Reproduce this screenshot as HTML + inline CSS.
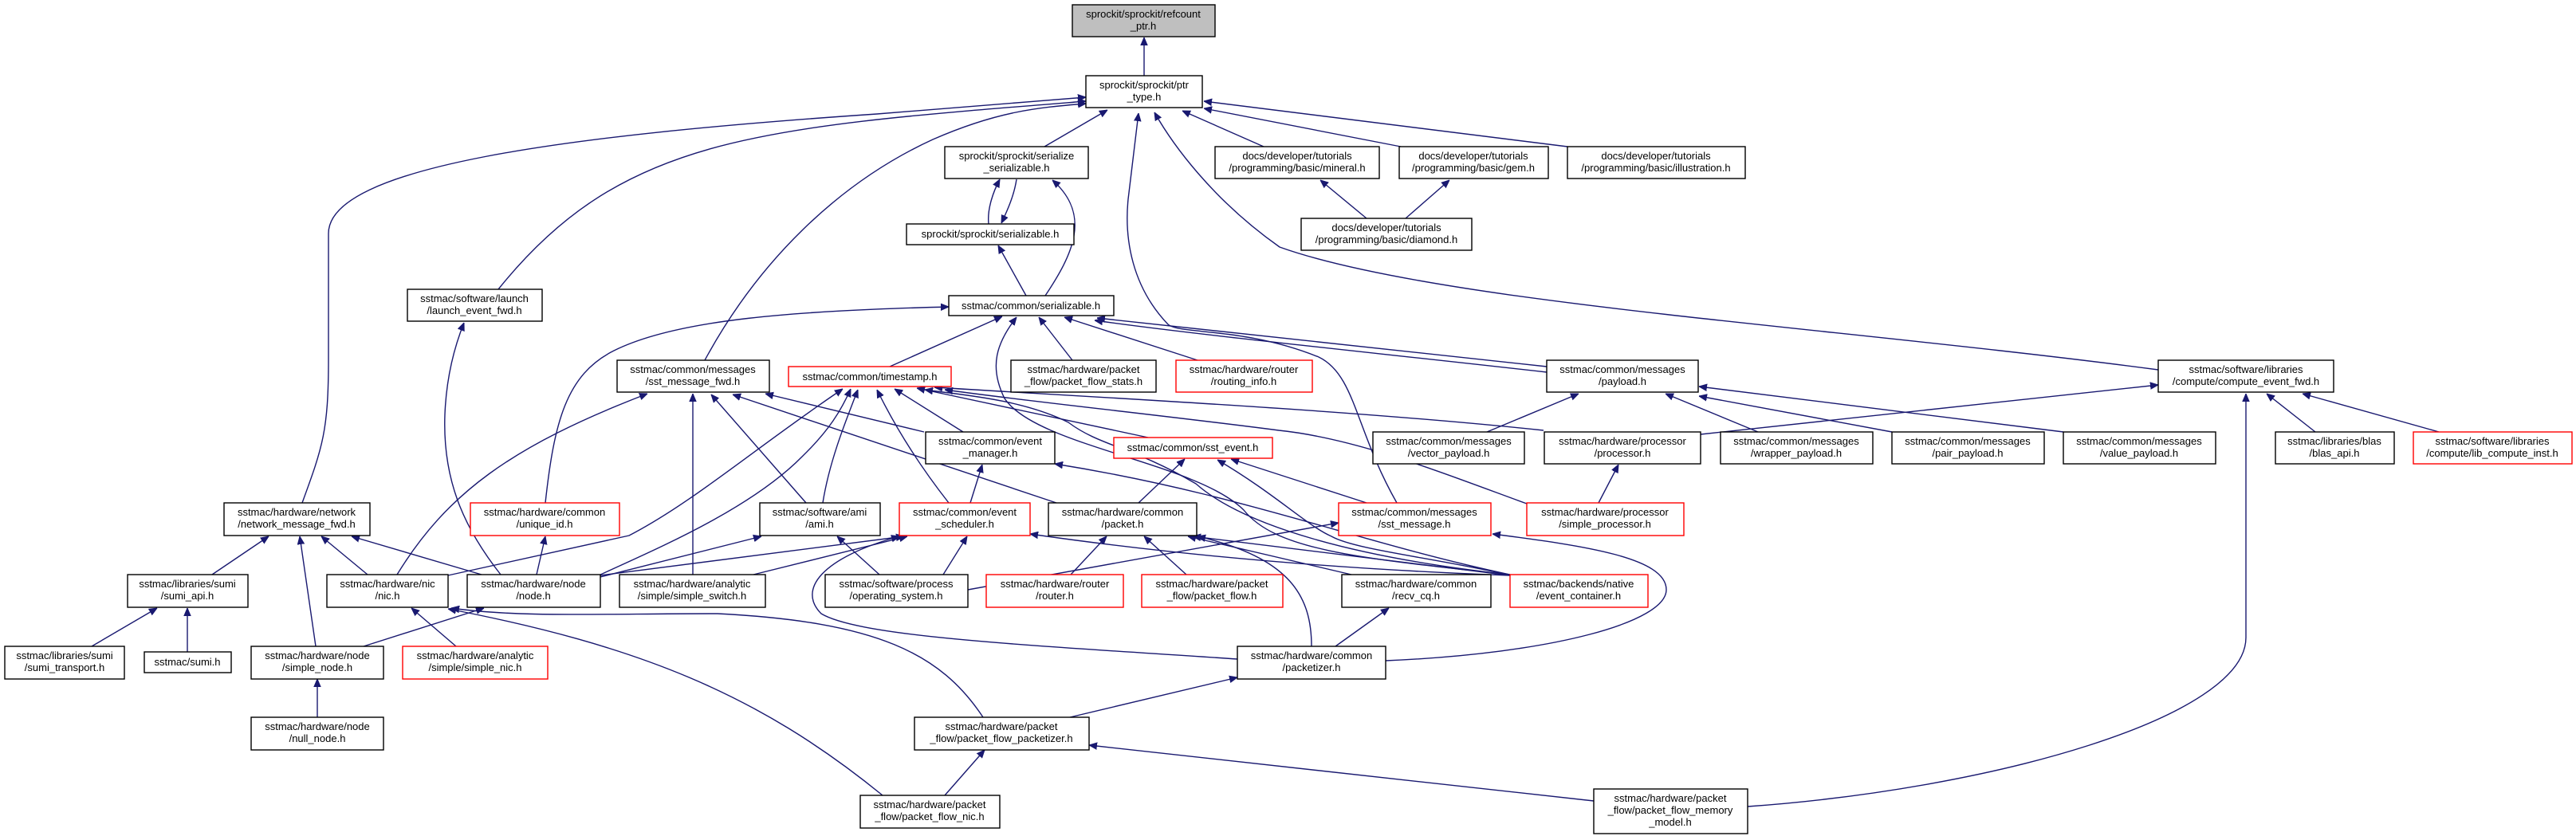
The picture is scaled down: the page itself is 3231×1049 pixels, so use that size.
<!DOCTYPE html>
<html><head><meta charset="utf-8"><style>
html,body{margin:0;padding:0;background:#fff;}
svg{display:block;}
text{font-family:"Liberation Sans",Arial,sans-serif;font-size:13px;fill:#000;}
.e{fill:none;stroke:#191970;stroke-width:1.4;}
.n{fill:#fff;stroke:#000;stroke-width:1.4;}
.r{fill:#fff;stroke:#ff0000;stroke-width:1.4;}
</style></head><body>
<svg width="3231" height="1049" viewBox="0 0 3231 1049" xmlns="http://www.w3.org/2000/svg">
<defs><marker id="a" viewBox="0 0 10 10" refX="10" refY="5" markerWidth="10" markerHeight="10" markerUnits="userSpaceOnUse" orient="auto"><path d="M0,0.8 L10,5 L0,9.2 z" fill="#191970" stroke="#191970"/></marker></defs>
<g class="e" marker-end="url(#a)">
<path d="M1435,95 L1435,47"/>
<path d="M1310,184 L1389,138"/>
<path d="M1585,184 L1483,139"/>
<path d="M1757,184 L1510,136"/>
<path d="M1966,184 L1510,127"/>
<path d="M1240,281 C1238,262 1246,240 1254,225"/>
<path d="M1275,225 C1272,245 1264,263 1256,280"/>
<path d="M1287,371 L1252,308"/>
<path d="M1311,371 C1345,320 1370,270 1320,226"/>
<path d="M1714,274 L1656,226"/>
<path d="M1763,274 L1818,226"/>
<path d="M2707,464 C2300,410 1800,380 1605,310 C1520,250 1470,180 1448,141"/>
<path d="M1752,631 C1700,540 1700,470 1654,448 C1560,410 1480,420 1465,407 C1420,360 1410,300 1415,250 L1428,142"/>
<path d="M625,363 C780,170 950,160 1362,127"/>
<path d="M379,631 C405,560 412,540 412,450 L412,293 C412,210 700,170 1100,143 L1362,122"/>
<path d="M884,452 C950,330 1050,230 1170,175 C1250,140 1300,135 1362,130"/>
<path d="M684,631 C695,530 710,470 770,440 C850,400 1000,390 1190,385"/>
<path d="M1116,460 L1257,397"/>
<path d="M1894,721 C1700,700 1600,690 1560,640 C1500,580 1300,560 1260,500 C1240,460 1250,430 1275,398"/>
<path d="M1345,452 L1303,398"/>
<path d="M1502,452 L1335,398"/>
<path d="M1940,460 L1376,399"/>
<path d="M1940,467 C1700,440 1500,420 1373,402"/>
<path d="M1865,542 L1980,494"/>
<path d="M2205,542 L2089,494"/>
<path d="M2373,542 L2131,497"/>
<path d="M2588,542 L2131,485"/>
<path d="M2133,545 L2707,483"/>
<path d="M2192,1012 C2500,990 2817,900 2817,800 L2817,494"/>
<path d="M2904,542 L2843,494"/>
<path d="M3059,542 L2888,494"/>
<path d="M498,721 C560,620 640,560 812,494"/>
<path d="M869,721 L869,494"/>
<path d="M1011,631 L892,495"/>
<path d="M1325,631 L919,495"/>
<path d="M1159,542 L960,494"/>
<path d="M628,721 C580,660 555,600 558,520 C560,470 572,430 582,405"/>
<path d="M562,722 L789,672 C870,630 950,560 1057,488"/>
<path d="M751,722 C820,690 940,640 1006,573 C1040,540 1055,515 1067,488"/>
<path d="M1032,631 C1040,580 1060,530 1076,489"/>
<path d="M1190,631 C1150,580 1120,530 1100,489"/>
<path d="M1208,542 L1122,488"/>
<path d="M1440,549 L1150,487"/>
<path d="M1894,721 C1700,700 1560,660 1500,607 C1420,560 1380,560 1340,530 C1280,500 1200,495 1160,489"/>
<path d="M1936,540 C1700,515 1400,500 1172,486"/>
<path d="M1915,632 C1800,590 1700,550 1604,540 C1450,520 1300,505 1185,489"/>
<path d="M753,722 L1134,673"/>
<path d="M945,721 L1138,673"/>
<path d="M1183,721 L1213,673"/>
<path d="M1552,827 C1300,810 1080,800 1030,770 C1000,740 1030,700 1128,673"/>
<path d="M1894,722 C1700,715 1500,700 1292,670"/>
<path d="M753,724 L955,673"/>
<path d="M1103,721 L1050,673"/>
<path d="M572,811 L516,763"/>
<path d="M456,811 L607,763"/>
<path d="M1107,998 C950,870 800,810 562,764"/>
<path d="M1233,900 C1180,820 1100,780 900,770 C750,770 650,775 566,763"/>
<path d="M266,721 L337,673"/>
<path d="M396,811 L376,673"/>
<path d="M461,721 L403,673"/>
<path d="M604,721 L441,673"/>
<path d="M673,721 L684,673"/>
<path d="M115,811 L197,763"/>
<path d="M235,818 L235,763"/>
<path d="M398,900 L398,852"/>
<path d="M1217,631 L1232,583"/>
<path d="M1894,721 C1700,680 1560,620 1323,582"/>
<path d="M1428,631 L1486,576"/>
<path d="M1714,631 L1544,576"/>
<path d="M1895,722 C1800,700 1700,690 1670,673 C1640,660 1600,620 1527,577"/>
<path d="M1343,721 L1388,673"/>
<path d="M1488,721 L1435,673"/>
<path d="M1695,721 L1490,673"/>
<path d="M1645,811 C1645,750 1620,700 1502,673"/>
<path d="M1894,722 L1496,673"/>
<path d="M1214,740 L1679,656"/>
<path d="M1738,829 C1950,820 2090,780 2090,740 C2090,700 1990,685 1872,670"/>
<path d="M1675,811 L1742,763"/>
<path d="M1342,900 L1552,850"/>
<path d="M1999,1005 L1366,935"/>
<path d="M1185,998 L1235,941"/>
<path d="M2005,631 L2030,583"/>
</g>
<g>
<rect x="1345" y="6" width="179" height="40" fill="#bfbfbf" stroke="#000" stroke-width="1.4"/>
<rect class="n" x="1362" y="95" width="146" height="40"/>
<rect class="n" x="1185" y="184" width="180" height="40"/>
<rect class="n" x="1137" y="281" width="210" height="26"/>
<rect class="n" x="1524" y="184" width="206" height="40"/>
<rect class="n" x="1755" y="184" width="187" height="40"/>
<rect class="n" x="1966" y="184" width="223" height="40"/>
<rect class="n" x="1632" y="274" width="214" height="40"/>
<rect class="n" x="1190" y="371" width="207" height="25"/>
<rect class="n" x="511" y="363" width="169" height="40"/>
<rect class="n" x="774" y="452" width="191" height="40"/>
<rect class="r" x="989" y="460" width="204" height="25"/>
<rect class="n" x="1268" y="452" width="182" height="40"/>
<rect class="r" x="1475" y="452" width="171" height="40"/>
<rect class="n" x="1940" y="452" width="190" height="40"/>
<rect class="n" x="2707" y="452" width="220" height="40"/>
<rect class="n" x="281" y="631" width="183" height="41"/>
<rect class="r" x="590" y="631" width="187" height="41"/>
<rect class="n" x="953" y="631" width="151" height="41"/>
<rect class="n" x="1161" y="542" width="162" height="40"/>
<rect class="r" x="1397" y="549" width="199" height="26"/>
<rect class="n" x="1722" y="542" width="190" height="40"/>
<rect class="n" x="1937" y="542" width="196" height="40"/>
<rect class="n" x="2158" y="542" width="191" height="40"/>
<rect class="n" x="2373" y="542" width="191" height="40"/>
<rect class="n" x="2588" y="542" width="191" height="40"/>
<rect class="n" x="2854" y="542" width="149" height="40"/>
<rect class="r" x="3027" y="542" width="199" height="40"/>
<rect class="r" x="1128" y="631" width="164" height="41"/>
<rect class="n" x="1315" y="631" width="186" height="41"/>
<rect class="r" x="1679" y="631" width="191" height="41"/>
<rect class="r" x="1915" y="631" width="197" height="41"/>
<rect class="n" x="160" y="721" width="151" height="41"/>
<rect class="n" x="410" y="721" width="152" height="41"/>
<rect class="n" x="586" y="721" width="167" height="41"/>
<rect class="n" x="777" y="721" width="183" height="41"/>
<rect class="n" x="1035" y="721" width="179" height="41"/>
<rect class="r" x="1237" y="721" width="172" height="41"/>
<rect class="r" x="1432" y="721" width="177" height="41"/>
<rect class="n" x="1683" y="721" width="187" height="41"/>
<rect class="r" x="1894" y="721" width="173" height="41"/>
<rect class="n" x="6" y="811" width="150" height="41"/>
<rect class="n" x="181" y="818" width="109" height="26"/>
<rect class="n" x="315" y="811" width="166" height="41"/>
<rect class="r" x="505" y="811" width="182" height="41"/>
<rect class="n" x="1552" y="811" width="186" height="41"/>
<rect class="n" x="315" y="900" width="166" height="41"/>
<rect class="n" x="1147" y="900" width="219" height="41"/>
<rect class="n" x="1079" y="998" width="175" height="41"/>
<rect class="n" x="1999" y="990" width="193" height="56"/>
</g>
<g text-anchor="middle">
<text x="1434" y="22">sprockit/sprockit/refcount</text><text x="1434" y="37">_ptr.h</text>
<text x="1435" y="111">sprockit/sprockit/ptr</text><text x="1435" y="126">_type.h</text>
<text x="1275" y="200">sprockit/sprockit/serialize</text><text x="1275" y="215">_serializable.h</text>
<text x="1242" y="298">sprockit/sprockit/serializable.h</text>
<text x="1627" y="200">docs/developer/tutorials</text><text x="1627" y="215">/programming/basic/mineral.h</text>
<text x="1848" y="200">docs/developer/tutorials</text><text x="1848" y="215">/programming/basic/gem.h</text>
<text x="2077" y="200">docs/developer/tutorials</text><text x="2077" y="215">/programming/basic/illustration.h</text>
<text x="1739" y="290">docs/developer/tutorials</text><text x="1739" y="305">/programming/basic/diamond.h</text>
<text x="1293" y="388">sstmac/common/serializable.h</text>
<text x="595" y="379">sstmac/software/launch</text><text x="595" y="394">/launch_event_fwd.h</text>
<text x="869" y="468">sstmac/common/messages</text><text x="869" y="483">/sst_message_fwd.h</text>
<text x="1091" y="477">sstmac/common/timestamp.h</text>
<text x="1359" y="468">sstmac/hardware/packet</text><text x="1359" y="483">_flow/packet_flow_stats.h</text>
<text x="1560" y="468">sstmac/hardware/router</text><text x="1560" y="483">/routing_info.h</text>
<text x="2035" y="468">sstmac/common/messages</text><text x="2035" y="483">/payload.h</text>
<text x="2817" y="468">sstmac/software/libraries</text><text x="2817" y="483">/compute/compute_event_fwd.h</text>
<text x="372" y="647">sstmac/hardware/network</text><text x="372" y="662">/network_message_fwd.h</text>
<text x="683" y="647">sstmac/hardware/common</text><text x="683" y="662">/unique_id.h</text>
<text x="1028" y="647">sstmac/software/ami</text><text x="1028" y="662">/ami.h</text>
<text x="1242" y="558">sstmac/common/event</text><text x="1242" y="573">_manager.h</text>
<text x="1496" y="566">sstmac/common/sst_event.h</text>
<text x="1817" y="558">sstmac/common/messages</text><text x="1817" y="573">/vector_payload.h</text>
<text x="2035" y="558">sstmac/hardware/processor</text><text x="2035" y="573">/processor.h</text>
<text x="2253" y="558">sstmac/common/messages</text><text x="2253" y="573">/wrapper_payload.h</text>
<text x="2468" y="558">sstmac/common/messages</text><text x="2468" y="573">/pair_payload.h</text>
<text x="2683" y="558">sstmac/common/messages</text><text x="2683" y="573">/value_payload.h</text>
<text x="2928" y="558">sstmac/libraries/blas</text><text x="2928" y="573">/blas_api.h</text>
<text x="3126" y="558">sstmac/software/libraries</text><text x="3126" y="573">/compute/lib_compute_inst.h</text>
<text x="1210" y="647">sstmac/common/event</text><text x="1210" y="662">_scheduler.h</text>
<text x="1408" y="647">sstmac/hardware/common</text><text x="1408" y="662">/packet.h</text>
<text x="1774" y="647">sstmac/common/messages</text><text x="1774" y="662">/sst_message.h</text>
<text x="2013" y="647">sstmac/hardware/processor</text><text x="2013" y="662">/simple_processor.h</text>
<text x="235" y="737">sstmac/libraries/sumi</text><text x="235" y="752">/sumi_api.h</text>
<text x="486" y="737">sstmac/hardware/nic</text><text x="486" y="752">/nic.h</text>
<text x="669" y="737">sstmac/hardware/node</text><text x="669" y="752">/node.h</text>
<text x="868" y="737">sstmac/hardware/analytic</text><text x="868" y="752">/simple/simple_switch.h</text>
<text x="1124" y="737">sstmac/software/process</text><text x="1124" y="752">/operating_system.h</text>
<text x="1323" y="737">sstmac/hardware/router</text><text x="1323" y="752">/router.h</text>
<text x="1520" y="737">sstmac/hardware/packet</text><text x="1520" y="752">_flow/packet_flow.h</text>
<text x="1776" y="737">sstmac/hardware/common</text><text x="1776" y="752">/recv_cq.h</text>
<text x="1980" y="737">sstmac/backends/native</text><text x="1980" y="752">/event_container.h</text>
<text x="81" y="827">sstmac/libraries/sumi</text><text x="81" y="842">/sumi_transport.h</text>
<text x="235" y="835">sstmac/sumi.h</text>
<text x="398" y="827">sstmac/hardware/node</text><text x="398" y="842">/simple_node.h</text>
<text x="596" y="827">sstmac/hardware/analytic</text><text x="596" y="842">/simple/simple_nic.h</text>
<text x="1645" y="827">sstmac/hardware/common</text><text x="1645" y="842">/packetizer.h</text>
<text x="398" y="916">sstmac/hardware/node</text><text x="398" y="931">/null_node.h</text>
<text x="1256" y="916">sstmac/hardware/packet</text><text x="1256" y="931">_flow/packet_flow_packetizer.h</text>
<text x="1166" y="1014">sstmac/hardware/packet</text><text x="1166" y="1029">_flow/packet_flow_nic.h</text>
<text x="2095" y="1006">sstmac/hardware/packet</text><text x="2095" y="1021">_flow/packet_flow_memory</text><text x="2095" y="1036">_model.h</text>
</g>
</svg>
</body></html>
